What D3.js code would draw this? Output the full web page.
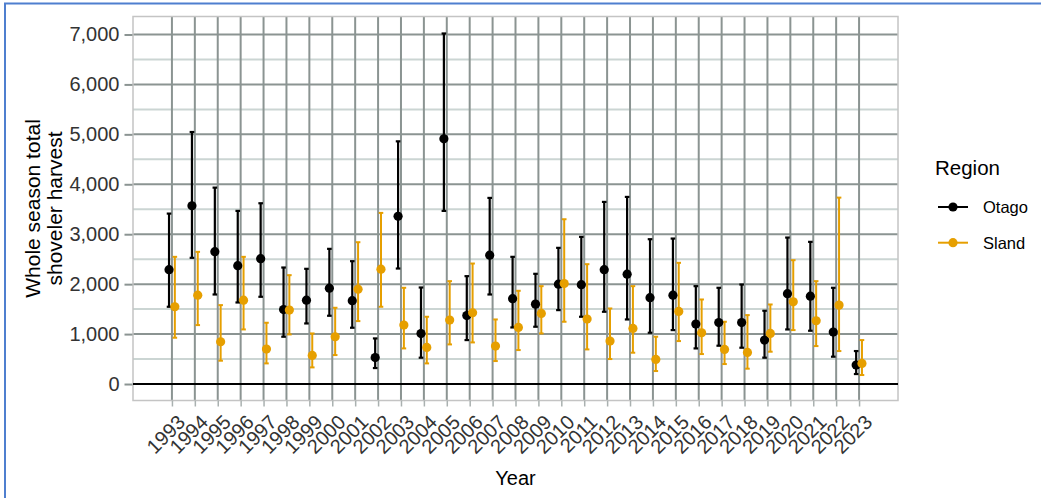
<!DOCTYPE html>
<html><head><meta charset="utf-8">
<script src="https://cdn.jsdelivr.net/npm/d3@7"></script>
<style>html,body{margin:0;padding:0;background:#fff;}svg{display:block;font-family:"Liberation Sans",Arial,sans-serif;}</style>
</head><body>
<svg id="chart" width="1041" height="498"></svg>
<script>
const years = ["1993","1994","1995","1996","1997","1998","1999","2000","2001","2002","2003","2004","2005","2006","2007","2008","2009","2010","2011","2012","2013","2014","2015","2016","2017","2018","2019","2020","2021","2022","2023"];
const otagoMean = [2290,3570,2650,2370,2510,1490,1680,1920,1670,530,3360,1010,4910,1370,2580,1710,1600,2000,1990,2290,2200,1730,1780,1200,1230,1230,880,1810,1760,1040,380];
const otagoLow  = [1547,2527,1793,1633,1747,947,1213,1367,1127,320,2313,527,3467,880,1793,1133,1147,1480,1347,1447,1293,1027,1080,713,767,727,527,1093,1067,547,200];
const otagoHigh = [3413,5047,3933,3467,3620,2333,2307,2707,2460,913,4860,1933,7020,2160,3727,2547,2207,2727,2947,3647,3747,2900,2913,1960,1927,1993,1467,2933,2847,1927,660];
const slandMean = [1547,1780,847,1680,700,1480,573,947,1900,2300,1180,733,1280,1427,760,1133,1413,2013,1300,860,1113,493,1453,1027,693,633,1013,1647,1267,1580,413];
const slandLow  = [927,1180,467,1093,413,993,333,580,1260,1547,713,413,793,833,460,680,1013,1247,693,500,627,260,860,600,400,307,647,1080,760,660,180];
const slandHigh = [2547,2647,1580,2547,1227,2180,1013,1527,2840,3427,1927,1347,2060,2413,1293,1867,1960,3300,2400,1513,1960,947,2427,1693,1247,1380,1593,2480,2060,3733,880];
const yTicks = [0,1000,2000,3000,4000,5000,6000,7000];
const yMinor = [500,1500,2500,3500,4500,5500,6500];
const regions = ["Otago","Sland"];
const colors = ["#000000","#E69F00"];

const svg = d3.select("#chart");
const P = {left:133, right:898, top:16.5, bottom:400.5};

// frame
svg.append("path").attr("d","M5,498 L5,3.5 L1041,3.5").attr("fill","none").attr("stroke","#4f7fcf").attr("stroke-width",2);

const x = d3.scalePoint().domain(years).range([P.left,P.right]).padding(1.7);
const y = d3.scaleLinear().domain([-330,7360]).range([P.bottom,P.top]);
const dodge = d3.scalePoint().domain(regions).range([-2.9,2.9]);
const color = d3.scaleOrdinal().domain(regions).range(colors);

const g = svg.append("g");
g.selectAll(".minor").data(yMinor).join("line")
  .attr("x1",P.left).attr("x2",P.right).attr("y1",d=>y(d)).attr("y2",d=>y(d))
  .attr("stroke","#cbd5d3").attr("stroke-width",2);
g.selectAll(".major").data(yTicks).join("line")
  .attr("x1",P.left).attr("x2",P.right).attr("y1",d=>y(d)).attr("y2",d=>y(d))
  .attr("stroke","#8b9492").attr("stroke-width",2);
g.selectAll(".vmajor").data(years).join("line")
  .attr("x1",d=>x(d)).attr("x2",d=>x(d)).attr("y1",P.top).attr("y2",P.bottom)
  .attr("stroke","#8b9492").attr("stroke-width",2);
g.append("rect").attr("x",P.left).attr("y",P.top).attr("width",P.right-P.left).attr("height",P.bottom-P.top)
  .attr("fill","none").attr("stroke","#c4c4c4").attr("stroke-width",1.5);
g.append("line").attr("x1",P.left).attr("x2",P.right).attr("y1",y(0)).attr("y2",y(0))
  .attr("stroke","#000").attr("stroke-width",2.2);

const series = [
  {name:"Otago", mean:otagoMean, low:otagoLow, high:otagoHigh, lw:2.2},
  {name:"Sland", mean:slandMean, low:slandLow, high:slandHigh, lw:2}
];
const rows = s => years.map((yr,i)=>({yr, m:s.mean[i], lo:s.low[i], hi:s.high[i], name:s.name}));

series.forEach(s=>{
  const eg = g.append("g").attr("stroke",color(s.name)).attr("stroke-width",s.lw).attr("fill","none");
  rows(s).forEach(d=>{
    const cx = x(d.yr)+dodge(d.name);
    eg.append("line").attr("x1",cx).attr("x2",cx).attr("y1",y(d.lo)).attr("y2",y(d.hi));
    eg.append("line").attr("x1",cx-2.3).attr("x2",cx+2.3).attr("y1",y(d.lo)).attr("y2",y(d.lo));
    eg.append("line").attr("x1",cx-2.3).attr("x2",cx+2.3).attr("y1",y(d.hi)).attr("y2",y(d.hi));
  });
});
series.forEach(s=>{
  g.append("g").selectAll("circle").data(rows(s)).join("circle")
    .attr("cx",d=>x(d.yr)+dodge(d.name)).attr("cy",d=>y(d.m)).attr("r",4.6)
    .attr("fill",color(s.name));
});

const yAxis = d3.axisLeft(y).tickValues(yTicks).tickFormat(d3.format(",")).tickSize(8).tickPadding(5);
const ya = svg.append("g").attr("transform",`translate(${P.left-0.5},0)`).call(yAxis);
ya.select(".domain").remove();
ya.selectAll(".tick line").attr("stroke","#8b9492").attr("stroke-width",2);
ya.selectAll(".tick text").attr("fill","#333").style("font-size","20px").style("font-family","'Liberation Sans',Arial,sans-serif");

const xAxis = d3.axisBottom(x).tickSize(6).tickPadding(0);
const xa = svg.append("g").attr("transform",`translate(0,${P.bottom})`).call(xAxis);
xa.select(".domain").remove();
xa.selectAll(".tick line").attr("stroke","#aab1b0").attr("stroke-width",1.5);
xa.selectAll(".tick text").attr("fill","#333").style("font-size","20px")
  .style("font-family","'Liberation Sans',Arial,sans-serif")
  .attr("text-anchor","end").attr("dy",null).attr("y",null)
  .attr("transform","translate(14,23) rotate(-45)");

svg.append("text").attr("x",(P.left+P.right)/2).attr("y",485).attr("text-anchor","middle")
  .style("font-size","20px").attr("fill","#000").text("Year");
const yt = svg.append("text").attr("transform",`translate(40,${(P.top+P.bottom)/2}) rotate(-90)`)
  .attr("text-anchor","middle").style("font-size","21px").attr("fill","#000");
yt.append("tspan").attr("x",0).attr("y",0).text("Whole season total");
yt.append("tspan").attr("x",0).attr("y",22).text("shoveler harvest");

const lg = svg.append("g");
lg.append("text").attr("x",935).attr("y",175).style("font-size","20.5px").attr("fill","#000").text("Region");
regions.forEach((r,i)=>{
  const cy = 207 + i*35.7;
  lg.append("line").attr("x1",938).attr("x2",968).attr("y1",cy).attr("y2",cy).attr("stroke",color(r)).attr("stroke-width",2);
  lg.append("circle").attr("cx",953).attr("cy",cy).attr("r",4.6).attr("fill",color(r));
  lg.append("text").attr("x",983).attr("y",cy+6).style("font-size","16.5px").attr("fill","#000").text(r);
});
</script>
</body></html>
